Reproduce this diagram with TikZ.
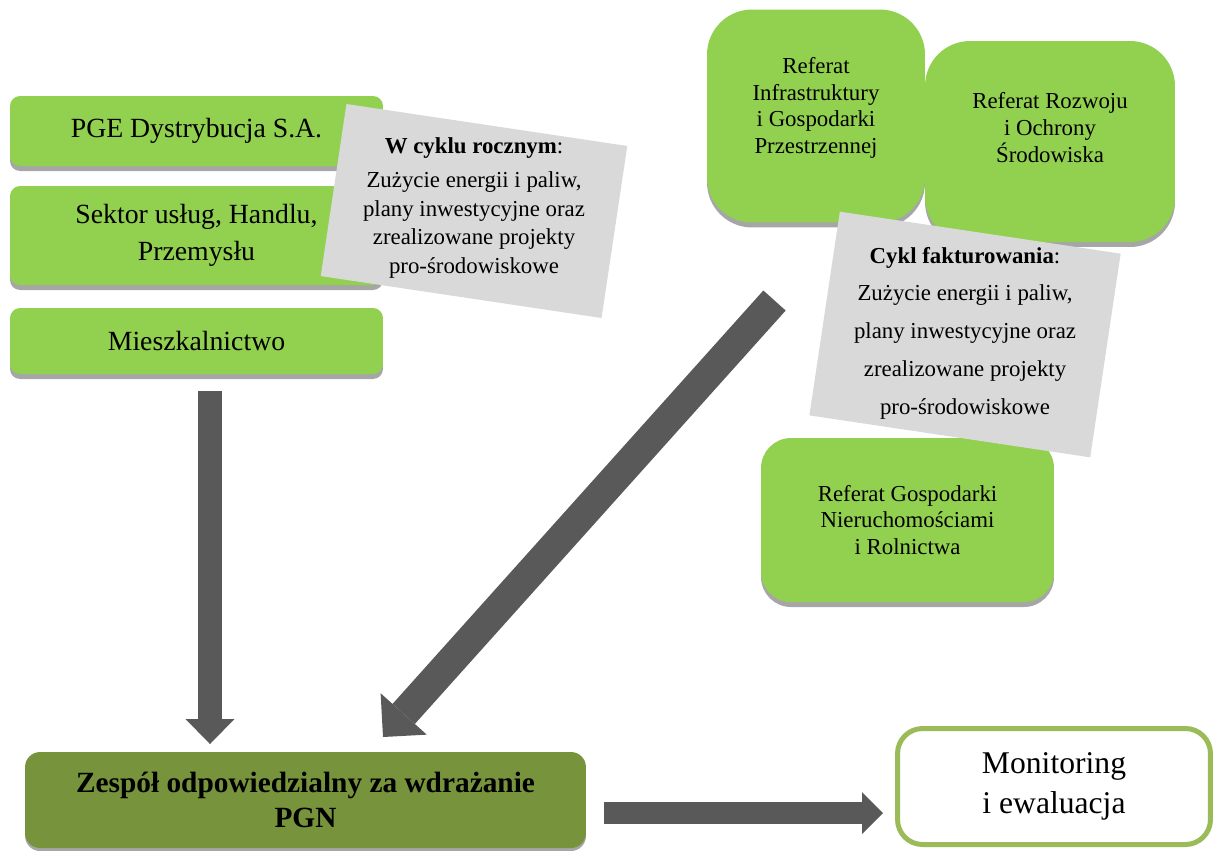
\documentclass[tikz,border=0pt]{standalone}
\usepackage{fontspec}
\setmainfont{Liberation Serif}
\usetikzlibrary{arrows.meta,shadows}

\definecolor{leafgreen}{HTML}{92D050}
\definecolor{teamgreen}{HTML}{77933C}
\definecolor{notegray}{HTML}{D9D9D9}
\definecolor{arrowgray}{HTML}{595959}
\definecolor{framegreen}{HTML}{9BBB59}
\definecolor{shadowgray}{HTML}{A6A6A6}

\tikzset{
  source/.style={fill=leafgreen, rounded corners=0.2cm, inner sep=0pt, align=center,
    minimum width=7.46cm, font={\fontsize{15.8}{21}\selectfont},
    drop shadow={shadow xshift=0cm, shadow yshift=-0.1cm, fill=shadowgray, opacity=1}},
  office/.style={fill=leafgreen, rounded corners=0.9cm, inner sep=0pt, align=center,
    font={\fontsize{13}{15.3}\selectfont},
    drop shadow={shadow xshift=0cm, shadow yshift=-0.1cm, fill=shadowgray, opacity=1}},
  note/.style={fill=notegray, inner sep=0pt, minimum width=5.68cm, rotate=-8.5},
  notetext/.style={align=center, inner sep=0pt},
  bigarrow/.style n args={3}{draw=arrowgray, line width=#1,
    -{Triangle[length=#2, width=#3, line width=0pt]}}
}

\begin{document}
\begin{tikzpicture}[x=0.02cm, y=-0.02cm]
  \useasboundingbox (0,0) rectangle (1216,850);

  % sources on the left
  \node [source, minimum height=1.4cm] (pge) at (196.5,131) {PGE Dystrybucja S.A.};
  \node [source, minimum height=1.98cm] (sektor) at (196.5,235.5) {Sektor usług, Handlu,\\Przemysłu};
  \node [source, minimum height=1.32cm] (miesz) at (196.5,341) {Mieszkalnictwo};

  \node [note, minimum height=3.48cm] (roczny) at (474,211) {};
  \node [notetext, font={\fontsize{13}{16.4}\selectfont}] (roczny-t) at (474,208)
    {\textbf{W cyklu rocznym}:\\[3pt]Zużycie energii i paliw,\\plany inwestycyjne oraz\\zrealizowane projekty\\pro-środowiskowe};

  % offices on the right
  \node [office, text depth=0.42cm, minimum width=4.36cm, minimum height=4.26cm] (infra) at (816,116)
    {Referat\\Infrastruktury\\i Gospodarki\\Przestrzennej};
  \node [office, text depth=0.56cm, minimum width=5cm, minimum height=4.02cm] (rozwoj) at (1050,141.5)
    {Referat Rozwoju\\i Ochrony\\Środowiska};
  \node [office, rounded corners=0.6cm, minimum width=5.86cm, minimum height=3.28cm] (gosp) at (907.5,520)
    {Referat Gospodarki\\Nieruchomościami\\i Rolnictwa};

  \node [note, minimum height=4.12cm] (faktura) at (965,334.5) {};
  \node [notetext, font={\fontsize{13}{21.5}\selectfont}] (faktura-t) at (965,333)
    {\textbf{Cykl fakturowania}:\\Zużycie energii i paliw,\\plany inwestycyjne oraz\\zrealizowane projekty\\pro-środowiskowe};

  % bottom row
  \node [fill=teamgreen, rounded corners=0.3cm, inner sep=0pt, align=center,
         minimum width=11.22cm, minimum height=1.92cm, font={\bfseries\fontsize{16.7}{20.4}\selectfont},
         drop shadow={shadow xshift=0cm, shadow yshift=-0.06cm, fill=shadowgray, opacity=1}]
    (zespol) at (305.5,800) {Zespół odpowiedzialny za wdrażanie\\PGN};
  \node [draw=framegreen, line width=0.1cm, fill=white, rounded corners=0.5cm, inner sep=0pt, align=center,
         minimum width=6.26cm, minimum height=2.32cm, font={\fontsize{18}{22.7}\selectfont}]
    (monitor) at (1054,786.5) {Monitoring\\i ewaluacja};

  % arrows
  \coordinate (down-a) at (210,391);
  \coordinate (down-b) at (210,744);
  \coordinate (diag-a) at (774.5,300.5);
  \coordinate (diag-b) at (383,737);
  \coordinate (flat-a) at (604,813);
  \coordinate (flat-b) at (883,813);

  \draw [bigarrow={0.48cm}{0.5cm}{0.98cm}] (down-a) -- (down-b);
  \draw [bigarrow={0.6cm}{0.62cm}{1.24cm}] (diag-a) -- (diag-b);
  \draw [bigarrow={0.44cm}{0.42cm}{0.84cm}] (flat-a) -- (flat-b);

\end{tikzpicture}
\end{document}
